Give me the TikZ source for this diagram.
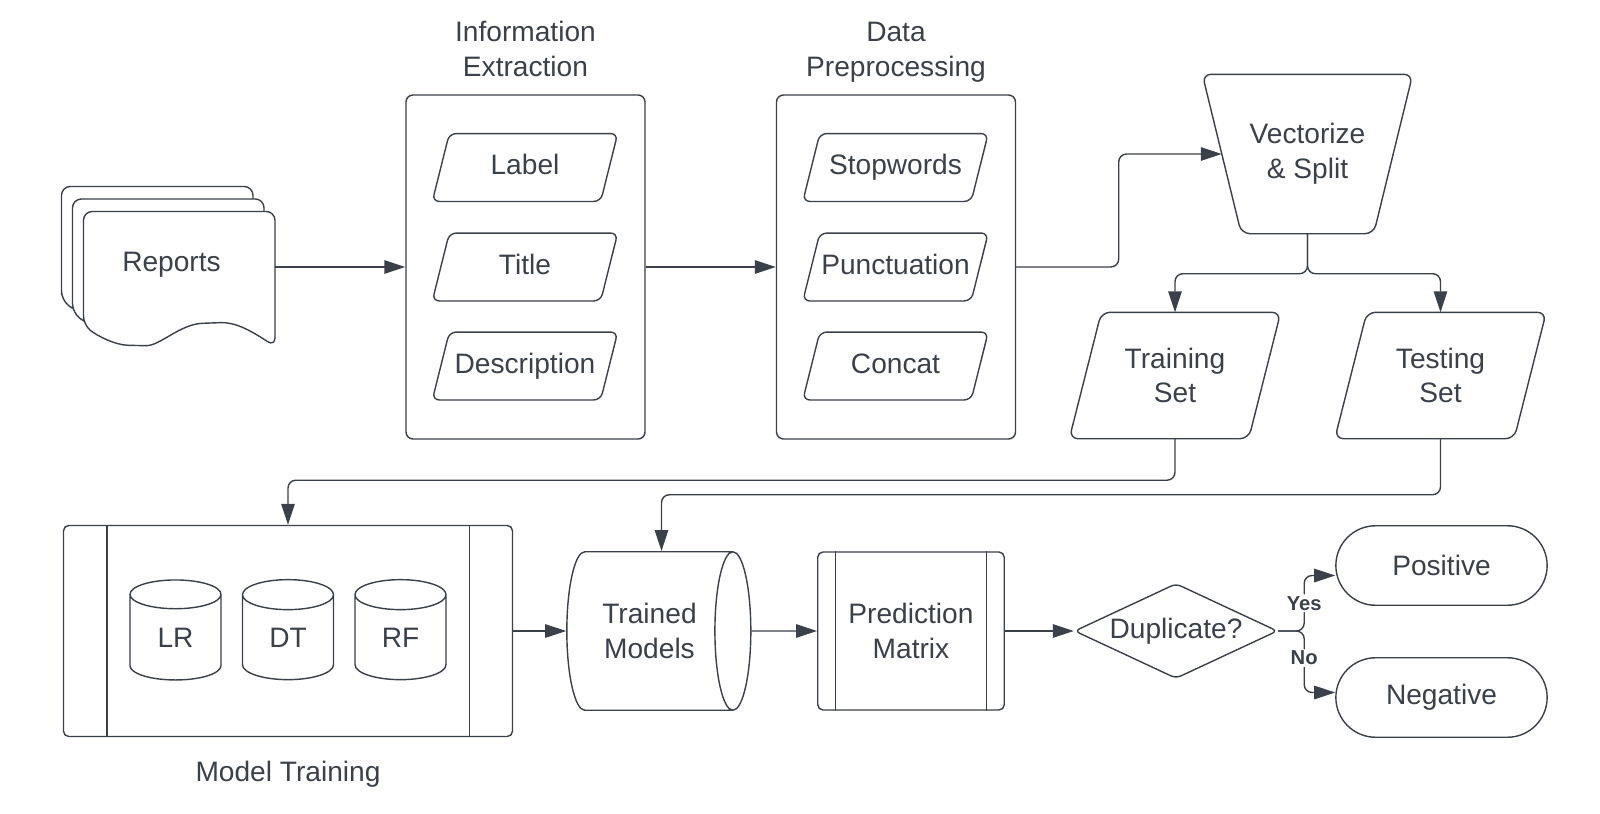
\documentclass[tikz,border=0pt]{standalone}
\usepackage{fontspec}
\setmainfont{Liberation Sans}
\usetikzlibrary{arrows.meta, calc, shapes.geometric, shapes.misc}

\definecolor{ink}{HTML}{3A414A}

\tikzset{
  lane/.style={draw=ink, rounded corners=4pt, minimum width=4.78cm, minimum height=6.88cm},
  field/.style={inner sep=0pt, minimum width=3.68cm, minimum height=1.33cm, text height=11.5pt, text depth=3pt},
  dataset/.style={inner sep=0pt, minimum width=4.2cm, minimum height=2.5cm, align=center},
  store/.style={cylinder, draw=ink, aspect=0.8, inner sep=0pt, align=center},
  proc/.style={draw=ink, rounded corners=3pt, align=center},
  term/.style={rounded rectangle, draw=ink, minimum width=4.46cm, minimum height=1.59cm},
  flow/.style={->, draw=ink, rounded corners=4.5pt},
  choice/.style={fill=white, inner sep=1pt, font=\fontsize{11.5}{13}\selectfont\bfseries},
}

\begin{document}
\begin{tikzpicture}[>={Triangle[length=0.42cm, width=0.27cm]}, line width=0.8pt,
    font=\fontsize{16}{19.7}\selectfont, text=ink]
  \useasboundingbox (0,0) rectangle (32,-16.28);
  % pila de informes
  \foreach \d in {2,1,0}
    \filldraw[draw=ink, fill=white, rounded corners=5pt, shift={(-0.22*\d,0.25*\d)}]
      (1.67,-6.50) -- (1.67,-4.23) -- (5.50,-4.23) -- (5.50,-6.93)
      .. controls (5.0,-6.60) and (4.7,-6.44) .. (4.23,-6.46)
      .. controls (3.6,-6.48) and (3.2,-6.92) .. (2.74,-6.91)
      .. controls (2.3,-6.90) and (1.95,-6.72) .. (1.67,-6.50) -- cycle;
  \node (reports) at (3.43,-5.30) {Reports};
  \coordinate (reports-out) at (5.50,-5.34);

  % extraccion
  \node[lane] (info) at (10.51,-5.34) {};
  \node[align=center] (info-title) at (10.51,-0.98) {Information\\Extraction};
  \node[field] (label) at (10.50,-3.35) {Label};
  \node[field] (title) at (10.50,-5.34) {Title};
  \node[field] (desc) at (10.50,-7.32) {Description};

  % preprocesado
  \node[lane] (prep) at (17.92,-5.34) {};
  \node[align=center] (prep-title) at (17.92,-1.04) {Data\\Preprocessing};
  \node[field] (stop) at (17.91,-3.35) {Stopwords};
  \node[field] (punct) at (17.91,-5.34) {Punctuation};
  \node[field] (concat) at (17.91,-7.32) {Concat};

  \foreach \n in {label, title, desc, stop, punct, concat}
    \draw[ink, rounded corners=4pt] (\n.south west) -- ($(\n.north west)+(0.34,0)$)
      -- (\n.north east) -- ($(\n.south east)+(-0.34,0)$) -- cycle;

  % vectorizar y dividir
  \node[inner sep=0pt, minimum width=4.18cm, minimum height=3.16cm, align=center] (vec) at (26.15,-3.08) {Vectorize\\\& Split};
  \draw[ink, rounded corners=5pt] (vec.north west) -- (vec.north east)
    -- ($(vec.south east)+(-0.78,0)$) -- ($(vec.south west)+(0.78,0)$) -- cycle;
  \node[dataset] (train) at (23.50,-7.51) {Training\\Set};
  \node[dataset] (test) at (28.81,-7.51) {Testing\\Set};
  \foreach \n in {train, test}
    \draw[ink, rounded corners=5pt] (\n.south west) -- ($(\n.north west)+(0.64,0)$)
      -- (\n.north east) -- ($(\n.south east)+(-0.64,0)$) -- cycle;

  % entrenamiento
  \node[proc, minimum width=8.98cm, minimum height=4.22cm] (mt) at (5.76,-12.62) {};
  \draw[ink] ($(mt.north west)+(0.88,0)$) -- ($(mt.south west)+(0.88,0)$)
             ($(mt.north east)+(-0.88,0)$) -- ($(mt.south east)+(-0.88,0)$);
  \node (mt-title) at (5.76,-15.49) {Model Training};
  \foreach \name/\x in {LR/3.51, DT/5.76, RF/8.01}
    \node[store, shape border rotate=90, minimum width=1.82cm, minimum height=2.0cm] (\name) at (\x,-12.75) {\name};

  \node[store, aspect=0.65, minimum width=3.17cm, minimum height=3.68cm] (tm) at (12.99,-12.62) {Trained\\Models};
  \node[proc, minimum width=3.73cm, minimum height=3.16cm] (pm) at (18.22,-12.62) {Prediction\\Matrix};
  \draw[ink] ($(pm.north west)+(0.37,0)$) -- ($(pm.south west)+(0.37,0)$)
             ($(pm.north east)+(-0.37,0)$) -- ($(pm.south east)+(-0.37,0)$);

  % decision
  \node[diamond, draw=ink, rounded corners=3pt, inner sep=0pt, minimum width=4.06cm, minimum height=1.90cm] (dup) at (23.52,-12.62) {};
  \node (dup-text) at (dup) {Duplicate?};
  \node[term] (pos) at (28.83,-11.31) {Positive};
  \node[term] (neg) at (28.83,-13.95) {Negative};

  % conexiones
  \draw[flow] (reports-out) -- (info.west);
  \draw[flow] (info.east) -- (prep.west);
  \draw[flow] (prep.east) -- ++(2.05,0) |- ($(vec.west)+(0.39,0)$);
  \draw[flow] (vec.south) -- ++(0,-0.80) -| (train.north);
  \draw[flow] (vec.south) -- ++(0,-0.80) -| (test.north);
  \draw[flow] (train.south) -- ++(0,-0.83) -| (mt.north);
  \draw[flow] (test.south) -- ++(0,-1.12) -| ($(tm.north)+(0.24,0)$);
  \draw[flow] (mt.east) -- (tm.west);
  \draw[flow] (tm.east) -- (pm.west);
  \draw[flow] (pm.east) -- (dup.west);
  \draw[flow] (dup.east) -- ++(0.52,0) |- node[choice, pos=0.25] (yes) {Yes} ($(pos.west)+(0,-0.2)$);
  \draw[flow] (dup.east) -- ++(0.52,0) |- node[choice, pos=0.22] (no) {No} ($(neg.west)+(0,0.1)$);
\end{tikzpicture}
\end{document}
